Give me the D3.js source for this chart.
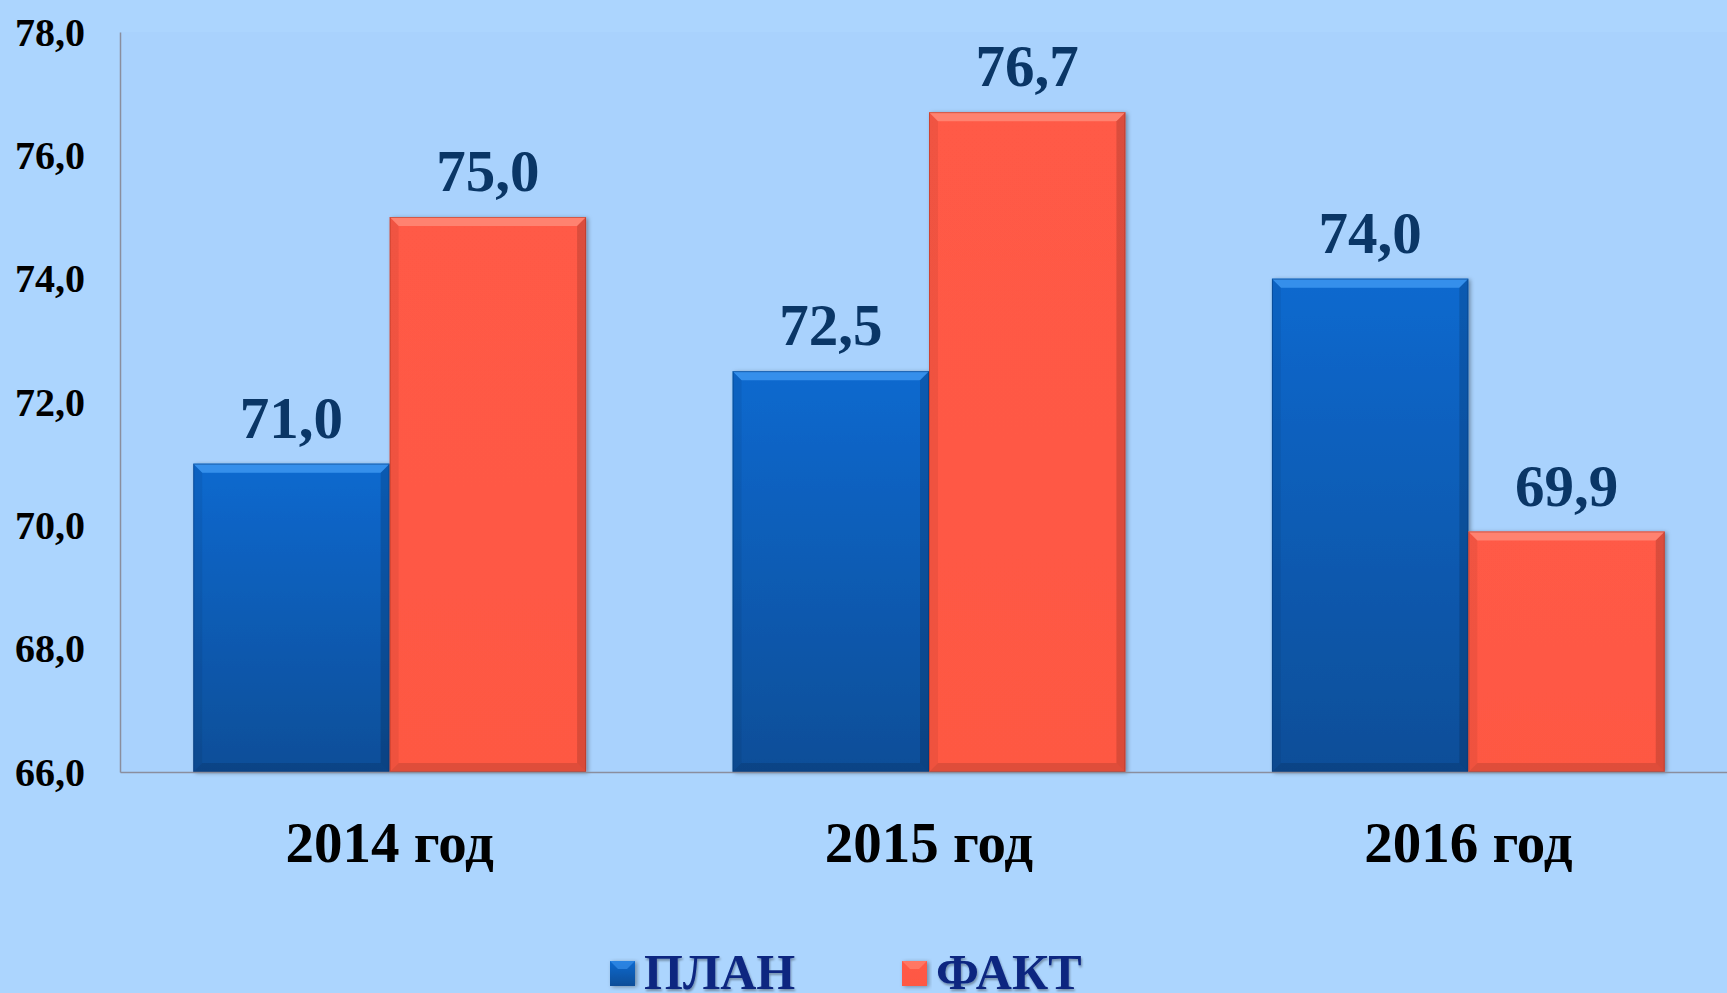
<!DOCTYPE html>
<html><head><meta charset="utf-8">
<script src="https://cdn.jsdelivr.net/npm/d3@7"></script>
<style>
html,body{margin:0;padding:0;background:#acd5fe;overflow:hidden}
svg{display:block}
text{font-family:"Liberation Serif","Times New Roman",serif;font-weight:bold}
</style></head>
<body>
<script>
const categories = ["2014 год", "2015 год", "2016 год"];
const seriesNames = ["ПЛАН", "ФАКТ"];
const planValues = [71.0, 72.5, 74.0];
const factValues = [75.0, 76.7, 69.9];
const yTicks = [66, 68, 70, 72, 74, 76, 78];

(function(){
const W = 1727, H = 993;
const svg = d3.select("body").append("svg").attr("width", W).attr("height", H);
const defs = svg.append("defs");

const gBlue = defs.append("linearGradient").attr("id","gBlue").attr("x1",0).attr("y1",0).attr("x2",0).attr("y2",1);
gBlue.append("stop").attr("offset","0%").attr("stop-color","#0f69cf");
gBlue.append("stop").attr("offset","100%").attr("stop-color","#0a4e98");
const gRed = defs.append("linearGradient").attr("id","gRed").attr("x1",0).attr("y1",0).attr("x2",0).attr("y2",1);
gRed.append("stop").attr("offset","0%").attr("stop-color","#ff5a46");
gRed.append("stop").attr("offset","100%").attr("stop-color","#fe5843");
const sh = defs.append("filter").attr("id","sh").attr("x","-10%").attr("y","-10%").attr("width","130%").attr("height","130%");
sh.append("feDropShadow").attr("dx",2).attr("dy",1).attr("stdDeviation",2).attr("flood-color","#000").attr("flood-opacity",0.35);
const tsh = defs.append("filter").attr("id","tsh").attr("x","-5%").attr("y","-10%").attr("width","110%").attr("height","130%");
tsh.append("feDropShadow").attr("dx",1).attr("dy",2).attr("stdDeviation",1.2).attr("flood-color","#000").attr("flood-opacity",0.35);

const pLeft = 120, pTop = 32, pBottom = 772, pRight = 1738;
const y = d3.scaleLinear().domain([66, 78]).range([pBottom, pTop]);
const x0 = d3.scaleBand().domain(categories).range([pLeft, pRight]).padding(0);
const x1 = d3.scaleBand().domain(seriesNames).range([0, x0.bandwidth()]).paddingInner(0).paddingOuter(0.373);
const fills = {"ПЛАН":"url(#gBlue)","ФАКТ":"url(#gRed)"};
const hiCol = {"ПЛАН":"#3d96f0","ФАКТ":"#ff8a78"};
const edgeCol = {"ПЛАН":"#063a78","ФАКТ":"#a8301f"};
const lblCol = "#0a3666";

svg.append("rect").attr("x", pLeft).attr("y", pTop).attr("width", W - pLeft).attr("height", pBottom - pTop).attr("fill", "#a9d2fd");

const data = [];
categories.forEach((c, i) => {
  data.push({cat:c, s:"ПЛАН", v:planValues[i]});
  data.push({cat:c, s:"ФАКТ", v:factValues[i]});
});

const bars = svg.append("g").selectAll("g").data(data).join("g");
bars.each(function(d){
  const g = d3.select(this);
  const bx = x0(d.cat) + x1(d.s), bw = x1.bandwidth();
  const by = y(d.v), bh = y(66) - y(d.v);
  g.append("rect").attr("x",bx).attr("y",by).attr("width",bw).attr("height",bh)
    .attr("fill",fills[d.s]).attr("filter","url(#sh)");
  const b = 9;
  g.append("path").attr("d",`M${bx},${by}L${bx+bw},${by}L${bx+bw-b},${by+b}L${bx+b},${by+b}Z`)
    .attr("fill",hiCol[d.s]).attr("opacity",0.85);
  g.append("path").attr("d",`M${bx},${by}L${bx+b},${by+b}L${bx+b},${by+bh-b}L${bx},${by+bh}Z`)
    .attr("fill","#000").attr("opacity",0.06);
  g.append("path").attr("d",`M${bx+bw},${by}L${bx+bw-b},${by+b}L${bx+bw-b},${by+bh-b}L${bx+bw},${by+bh}Z`)
    .attr("fill","#000").attr("opacity",0.14);
  g.append("path").attr("d",`M${bx},${by+bh}L${bx+b},${by+bh-b}L${bx+bw-b},${by+bh-b}L${bx+bw},${by+bh}Z`)
    .attr("fill","#000").attr("opacity",0.12);
  g.append("rect").attr("x",bx+0.5).attr("y",by+0.5).attr("width",bw-1).attr("height",bh-1)
    .attr("fill","none").attr("stroke",edgeCol[d.s]).attr("stroke-opacity",0.5).attr("stroke-width",1);
  g.append("text").attr("x",bx+bw/2).attr("y",by-26).attr("text-anchor","middle")
    .attr("font-size",59).attr("fill",lblCol).text(d.v.toFixed(1).replace(".", ","));
});

const yAxis = d3.axisLeft(y).tickValues(yTicks).tickSize(0).tickPadding(35)
  .tickFormat(v => v.toFixed(1).replace(".", ","));
const ya = svg.append("g").attr("transform",`translate(${pLeft},0)`).call(yAxis);
ya.select(".domain").attr("stroke","#8a8e9e").attr("stroke-width",1.5);
ya.selectAll("text").attr("font-size",40).attr("fill","#000").attr("dy","0.33em")
  .attr("font-family","'Liberation Serif',serif").attr("font-weight","bold");

const xAxis = d3.axisBottom(x0).tickSize(0).tickPadding(90);
const xa = svg.append("g").attr("transform",`translate(0,${pBottom})`).call(xAxis);
xa.select(".domain").attr("stroke","#8a8e9e").attr("stroke-width",1.5);
xa.selectAll("text").attr("font-size",57).attr("fill","#000").attr("dy","0")
  .attr("font-family","'Liberation Serif',serif").attr("font-weight","bold");

const legX = [610, 902];
const leg = svg.append("g").selectAll("g").data(seriesNames).join("g")
  .attr("transform",(d,i)=>`translate(${legX[i]},961)`);
leg.append("rect").attr("width",25).attr("height",25).attr("fill",d=>fills[d]).attr("filter","url(#sh)");
leg.append("path").attr("d","M0,0L25,0L17,8L8,8Z").attr("fill",d=>hiCol[d]).attr("opacity",0.6);
leg.append("text").attr("x",34).attr("y",28).attr("font-size",50).attr("fill","#0b2680")
  .attr("filter","url(#tsh)").text(d=>d);
})();
</script>
</body></html>
